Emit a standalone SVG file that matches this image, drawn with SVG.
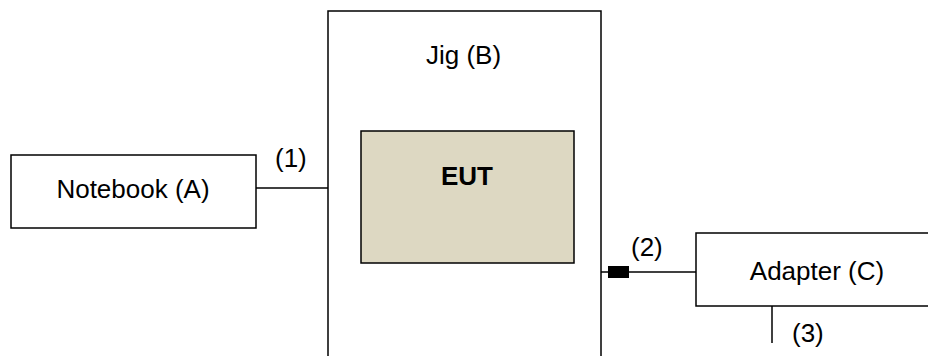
<svg xmlns="http://www.w3.org/2000/svg" width="928" height="356" viewBox="0 0 928 356">
<style>
.box{fill:#fff;stroke:#000;stroke-width:1.5}
.eut{fill:#DDD8C2;stroke:#000;stroke-width:1.5}
.ln{stroke:#000;stroke-width:1.5;fill:none}
text{font-family:"Liberation Sans",Arial,sans-serif;font-size:26px;fill:#000}
.b{font-weight:bold}
</style>
<rect width="928" height="356" fill="#fff"/>
<g id="jig">
<rect class="box" x="328" y="11" width="273" height="360"/>
<text x="463.5" y="64" text-anchor="middle">Jig (B)</text>
</g>
<g id="eut">
<rect class="eut" x="361" y="131" width="213" height="132"/>
<text class="b" x="467" y="185" text-anchor="middle">EUT</text>
</g>
<g id="notebook">
<rect class="box" x="11" y="155" width="245" height="73"/>
<text x="133" y="198" text-anchor="middle">Notebook (A)</text>
</g>
<g id="adapter">
<rect class="box" x="696" y="233" width="240" height="73"/>
<text x="817" y="280" text-anchor="middle">Adapter (C)</text>
</g>
<g id="connectors">
<line class="ln" x1="256" y1="188" x2="328" y2="188"/>
<text x="275" y="167">(1)</text>
<line class="ln" x1="601" y1="272" x2="696" y2="272"/>
<rect x="608" y="266" width="21" height="12" fill="#000"/>
<text x="631" y="256">(2)</text>
<line class="ln" x1="772" y1="306" x2="772" y2="343"/>
<text x="792" y="342">(3)</text>
</g>
</svg>
